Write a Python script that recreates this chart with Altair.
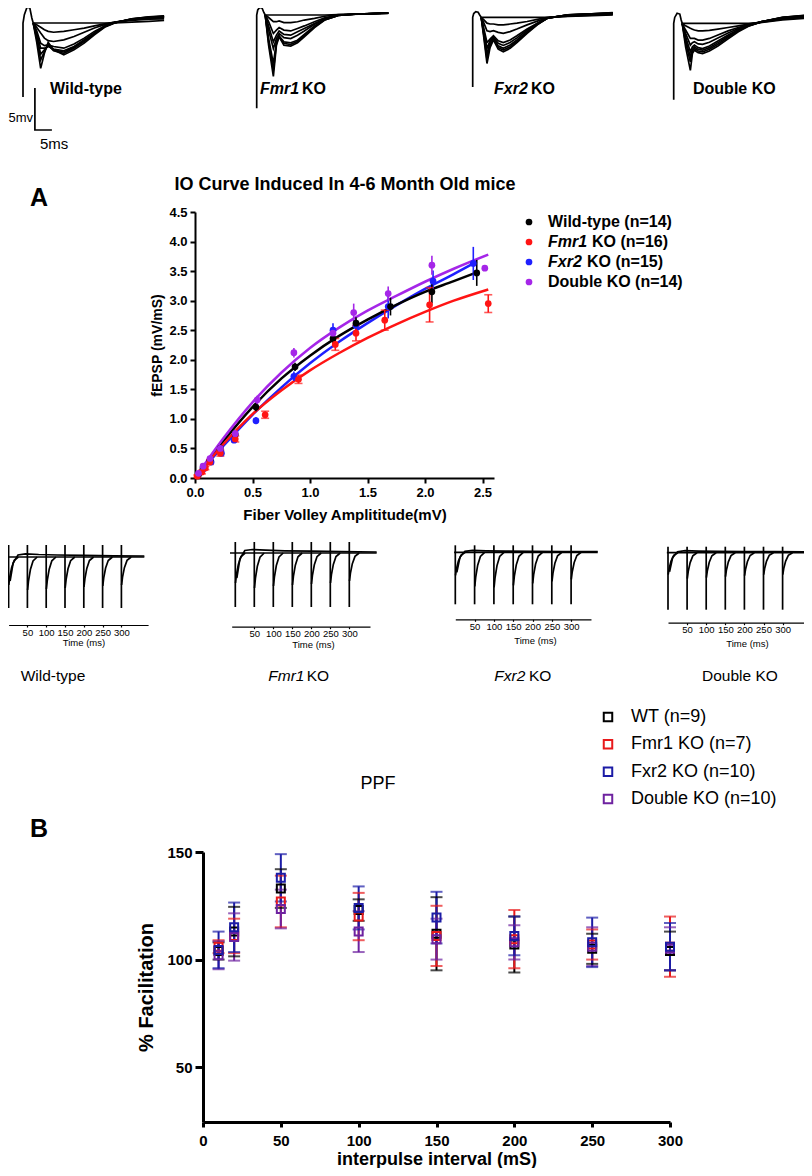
import altair as alt
import pandas as pd

FONT = "Liberation Sans"
M = 8              # page margin: page pixel -> view pixel
W, H = 796, 1160
MS_PX = 3.4        # top traces: px per ms
MV_PX = 8.4        # top traces: px per mV


def v(p):
    return p - M


ONE = pd.DataFrame({"k": [0]})

# ================= DATA =================
# ---- top row: superimposed fEPSP traces (time in ms, voltage in mV) ----
WT_T = [3, 4, 5.2, 6.3, 7.4, 9, 12, 15, 18, 21, 24, 27, 32, 37, 41.5]
WT_TRACES = [
    [0, 0, 0, 0, 0, 0, 0, 0, 0, 0, 0, 0, 0.1, 0.2, 0.3],
    [0, -0.2, -0.5, -0.8, -1.0, -1.1, -1.0, -0.8, -0.6, -0.35, -0.1, 0.1, 0.3, 0.45, 0.5],
    [0, -0.5, -1.2, -1.8, -2.1, -2.2, -2.0, -1.6, -1.1, -0.6, -0.2, 0.1, 0.4, 0.55, 0.65],
    [0, -0.9, -2.4, -2.7, -2.6, -2.8, -3.0, -2.5, -1.8, -1.0, -0.35, 0.05, 0.42, 0.6, 0.7],
    [0, -1.2, -3.0, -3.0, -2.8, -3.1, -3.3, -2.8, -2.0, -1.2, -0.4, 0.05, 0.45, 0.65, 0.75],
    [0, -1.5, -3.7, -3.2, -2.7, -3.2, -3.45, -2.9, -2.1, -1.25, -0.42, 0.05, 0.48, 0.68, 0.78],
    [0, -1.8, -4.4, -3.4, -2.6, -3.3, -3.6, -3.0, -2.2, -1.3, -0.45, 0.05, 0.5, 0.7, 0.8],
    [0, -2.2, -5.4, -3.6, -2.3, -3.2, -3.8, -3.2, -2.4, -1.4, -0.5, 0.0, 0.5, 0.72, 0.85],
]
WT_ART_T = [0, 0, 0, 0.4, 1.2, 2.0, 2.6, 3.0]
WT_ART_V = [0, -8.8, 0, 1.0, 1.9, 1.8, 0.6, 0]

FMR1_T = [2.5, 3.5, 4.9, 5.8, 6.6, 8, 10, 12, 14, 17, 20, 24, 30, 35, 38.7]
FMR1_TRACES = [
    [0, 0, 0, 0, 0, 0, 0, 0, 0, 0, 0, 0.05, 0.1, 0.15, 0.2],
    [0, -0.3, -0.8, -0.8, -0.7, -0.9, -0.9, -0.8, -0.6, -0.4, -0.15, 0.05, 0.12, 0.17, 0.22],
    [0, -0.8, -2.2, -1.8, -1.5, -1.8, -1.9, -1.6, -1.3, -0.8, -0.35, 0, 0.12, 0.18, 0.22],
    [0, -1.3, -3.2, -2.4, -1.9, -2.3, -2.4, -2.0, -1.6, -1.0, -0.45, 0, 0.12, 0.18, 0.23],
    [0, -1.8, -4.0, -2.8, -2.2, -2.7, -2.8, -2.4, -1.9, -1.1, -0.5, 0, 0.12, 0.18, 0.24],
    [0, -2.8, -5.8, -3.2, -2.5, -3.2, -3.3, -3.0, -2.3, -1.3, -0.55, -0.05, 0.12, 0.2, 0.25],
    [0, -3.2, -6.6, -3.4, -2.55, -3.4, -3.5, -3.15, -2.45, -1.4, -0.58, -0.05, 0.12, 0.2, 0.25],
    [0, -3.6, -7.3, -3.6, -2.6, -3.6, -3.7, -3.3, -2.6, -1.5, -0.6, -0.05, 0.12, 0.2, 0.25],
]
FMR1_ART_T = [0, 0, 0, 0.3, 0.9, 1.6, 2.1, 2.5]
FMR1_ART_V = [0, -11.1, 0, 0.6, 0.9, 0.8, 0.3, 0]

FXR2_T = [2.5, 3.3, 4.2, 5.1, 6.1, 7.5, 9, 11, 13, 16, 19, 22, 28, 35, 41.2]
FXR2_TRACES = [
    [0, 0, 0, 0, 0, 0, 0, 0, 0, 0, 0, 0, 0.1, 0.2, 0.3],
    [0, -0.3, -0.7, -0.8, -0.8, -0.9, -0.9, -0.8, -0.7, -0.5, -0.25, 0, 0.15, 0.25, 0.35],
    [0, -0.7, -1.6, -1.7, -1.6, -1.8, -1.9, -1.7, -1.4, -0.9, -0.45, -0.05, 0.2, 0.3, 0.4],
    [0, -1.4, -3.0, -2.6, -2.2, -2.8, -3.0, -2.7, -2.2, -1.4, -0.7, -0.1, 0.25, 0.35, 0.45],
    [0, -1.7, -3.7, -2.8, -2.35, -3.1, -3.35, -3.0, -2.45, -1.55, -0.75, -0.1, 0.26, 0.38, 0.48],
    [0, -2.0, -4.4, -3.0, -2.5, -3.4, -3.7, -3.3, -2.7, -1.7, -0.8, -0.1, 0.28, 0.4, 0.5],
    [0, -2.2, -5.0, -3.3, -2.6, -3.6, -3.9, -3.5, -2.85, -1.8, -0.85, -0.1, 0.29, 0.41, 0.52],
    [0, -2.5, -5.5, -3.6, -2.7, -3.8, -4.1, -3.7, -3.0, -1.9, -0.9, -0.1, 0.3, 0.42, 0.55],
]
FXR2_ART_T = [0, 0, 0, 0.3, 0.9, 1.6, 2.1, 2.5]
FXR2_ART_V = [0, -8.3, 0, 0.45, 0.67, 0.6, 0.25, 0]

DKO_T = [2.5, 3.5, 4.9, 5.5, 6.1, 7.2, 8.5, 10.5, 13, 16, 19, 22, 26, 32, 39.4]
DKO_TRACES = [
    [0, 0, 0, 0, 0, 0, 0, 0, 0, 0, 0, 0, 0.1, 0.4, 0.6],
    [0, -0.3, -0.6, -0.7, -0.8, -0.9, -0.9, -0.85, -0.7, -0.5, -0.3, -0.1, 0.15, 0.5, 0.7],
    [0, -0.8, -1.8, -1.8, -1.8, -2.0, -2.0, -1.8, -1.4, -0.9, -0.5, -0.15, 0.2, 0.6, 0.8],
    [0, -1.2, -2.6, -2.3, -2.2, -2.45, -2.5, -2.25, -1.75, -1.15, -0.62, -0.2, 0.2, 0.62, 0.85],
    [0, -1.6, -3.4, -2.8, -2.6, -2.9, -3.0, -2.7, -2.1, -1.4, -0.75, -0.25, 0.2, 0.65, 0.9],
    [0, -2.0, -4.0, -3.1, -2.8, -3.1, -3.2, -2.9, -2.3, -1.55, -0.82, -0.28, 0.2, 0.68, 0.92],
    [0, -2.3, -4.6, -3.3, -3.0, -3.3, -3.4, -3.1, -2.5, -1.7, -0.9, -0.3, 0.2, 0.7, 0.95],
    [0, -2.8, -5.6, -3.6, -3.2, -3.5, -3.6, -3.3, -2.7, -1.85, -1.0, -0.35, 0.2, 0.72, 1.0],
]
DKO_ART_T = [0, 0, 0, 0.3, 1.0, 1.8, 2.2, 2.5]
DKO_ART_V = [0, -9.1, 0, 0.7, 1.2, 1.1, 0.4, 0]

SCALEBAR_T = [3.5, 3.5, 8.5]          # 5 ms
SCALEBAR_V = [-7.74, -12.74, -12.74]  # 5 mV

# ---- panel A: IO curve ----
IO_GROUPS = ["Wild-type", "Fmr1 KO", "Fxr2 KO", "Double KO"]
IO_COLORS = ["#000000", "#ff1414", "#1f1fff", "#a526e8"]
IO_LEG_MAIN = ["Wild-type (n=14)", "", "", "Double KO (n=14)"]
IO_LEG_ITAL = ["", "Fmr1", "Fxr2", ""]
IO_LEG_REST = ["", "KO (n=16)", "KO (n=15)", ""]

WT_FV = [0.03, 0.07, 0.13, 0.22, 0.35, 0.53, 0.87, 1.20, 1.40, 1.70, 2.06, 2.45]
WT_FE = [0.06, 0.17, 0.30, 0.50, 0.74, 1.20, 1.88, 2.36, 2.62, 2.90, 3.15, 3.47]
WT_SE = [0.02, 0.03, 0.04, 0.05, 0.06, 0.07, 0.07, 0.09, 0.10, 0.15, 0.20, 0.22]

FMR1_FV = [0.02, 0.06, 0.09, 0.13, 0.22, 0.35, 0.61, 0.90, 1.22, 1.40, 1.65, 2.04, 2.55]
FMR1_FE = [0.03, 0.10, 0.17, 0.27, 0.42, 0.66, 1.07, 1.67, 2.26, 2.45, 2.67, 2.93, 2.95]
FMR1_SE = [0.02, 0.03, 0.03, 0.04, 0.05, 0.05, 0.06, 0.07, 0.10, 0.13, 0.17, 0.29, 0.15]

FXR2_FV = [0.03, 0.07, 0.14, 0.23, 0.34, 0.53, 0.86, 1.20, 1.40, 1.68, 2.07, 2.42]
FXR2_FE = [0.06, 0.15, 0.27, 0.42, 0.64, 0.97, 1.72, 2.50, 2.58, 2.90, 3.33, 3.63]
FXR2_SE = [0.02, 0.03, 0.04, 0.05, 0.05, 0.06, 0.08, 0.12, 0.10, 0.20, 0.18, 0.28]

DKO_FV = [0.03, 0.07, 0.13, 0.22, 0.35, 0.54, 0.86, 1.20, 1.38, 1.68, 2.06, 2.52]
DKO_FE = [0.08, 0.20, 0.33, 0.50, 0.75, 1.32, 2.12, 2.45, 2.80, 3.12, 3.60, 3.55]
DKO_SE = [0.02, 0.03, 0.04, 0.05, 0.06, 0.07, 0.08, 0.10, 0.15, 0.12, 0.16, 0.04]

WT_CX = [0, 0.25, 0.5, 0.75, 1.0, 1.25, 1.5, 1.75, 2.0, 2.25, 2.45]
WT_CY = [0, 0.63, 1.20, 1.68, 2.07, 2.40, 2.68, 2.93, 3.15, 3.33, 3.48]
FMR1_CX = [0, 0.25, 0.5, 0.75, 1.0, 1.25, 1.5, 1.75, 2.0, 2.25, 2.55]
FMR1_CY = [0, 0.58, 1.08, 1.48, 1.82, 2.11, 2.37, 2.60, 2.81, 3.00, 3.19]
FXR2_CX = [0, 0.25, 0.5, 0.75, 1.0, 1.25, 1.5, 1.75, 2.0, 2.25, 2.45]
FXR2_CY = [0, 0.55, 1.07, 1.53, 1.94, 2.30, 2.62, 2.92, 3.20, 3.45, 3.66]
DKO_CX = [0, 0.25, 0.5, 0.75, 1.0, 1.25, 1.5, 1.75, 2.0, 2.25, 2.55]
DKO_CY = [0, 0.68, 1.28, 1.78, 2.20, 2.54, 2.83, 3.08, 3.32, 3.54, 3.78]

IO_X_TICKS = [0, 0.5, 1.0, 1.5, 2.0, 2.5]
IO_Y_TICKS = [0, 0.5, 1.0, 1.5, 2.0, 2.5, 3.0, 3.5, 4.0, 4.5]

# ---- middle row: paired-pulse traces (ms, arbitrary units of ~1 mV) ----
PPF_PULSES = [0, 50, 100, 150, 200, 250, 300]
DIP_DT = [0.5, 3, 8, 15, 26]
DIP_FRAC = [1.0, 0.72, 0.38, 0.12, 0.0]
PP_TICKS = [50, 100, 150, 200, 250, 300]

WT_PP_DIPS = [-2.8, -3.3, -3.2, -3.1, -3.0, -2.9, -2.8]
WT_PP_ART = [1.2, -5.1]
WT_PP_SPAN = [-2, 361]
WT_PP_HUMP_T = [4, 12, 25, 45, 80, 130, 200, 280, 361]
WT_PP_HUMP_V = [-2.4, -0.6, 0.2, 0.32, 0.25, 0.2, 0.16, 0.12, 0.1]

FMR1_PP_DIPS = [-3.0, -3.5, -3.3, -3.2, -3.1, -3.0, -2.8]
FMR1_PP_ART = [1.1, -5.4]
FMR1_PP_SPAN = [-14, 372]
FMR1_PP_HUMP_T = [4, 12, 25, 45, 80, 130, 200, 280, 372]
FMR1_PP_HUMP_V = [-2.5, -0.6, 0.25, 0.35, 0.28, 0.22, 0.18, 0.14, 0.1]

FXR2_PP_DIPS = [-2.3, -3.4, -3.5, -3.3, -3.1, -2.9, -2.7]
FXR2_PP_ART = [0.7, -5.2]
FXR2_PP_SPAN = [-3, 369]
FXR2_PP_HUMP_T = [4, 12, 25, 45, 80, 130, 200, 280, 369]
FXR2_PP_HUMP_V = [-2.0, -0.5, 0.1, 0.2, 0.15, 0.12, 0.1, 0.08, 0.08]

DKO_PP_DIPS = [-2.2, -2.6, -2.5, -2.4, -2.3, -2.2, -2.2]
DKO_PP_ART = [0.6, -5.7]
DKO_PP_SPAN = [-3, 374]
DKO_PP_HUMP_T = [4, 12, 25, 45, 80, 130, 200, 280, 374]
DKO_PP_HUMP_V = [-1.9, -0.5, 0.1, 0.2, 0.16, 0.14, 0.12, 0.1, 0.08]

# ---- panel B: PPF ----
PPF_GROUPS = ["WT (n=9)", "Fmr1 KO (n=7)", "Fxr2 KO (n=10)", "Double KO (n=10)"]
PPF_COLORS = ["#000000", "#e8191b", "#1c1ca6", "#6e22a0"]
PPF_X = [10, 20, 50, 100, 150, 200, 250, 300]
WT_PPF = [104, 113, 133, 123, 112, 107, 105, 104]
WT_PPF_SE = [4, 11.5, 9, 5, 17, 13, 7, 9]
FMR1_PPF = [106, 111, 127, 120, 111, 109.5, 107, 106]
FMR1_PPF_SE = [3, 8, 12, 11, 14, 13.5, 7, 14]
FXR2_PPF = [104.5, 115, 138, 124, 119.5, 111, 108, 106]
FXR2_PPF_SE = [8.5, 11.5, 11, 10, 12, 9, 11.5, 11]
DKO_PPF = [102, 110.5, 123.5, 113, 109.5, 108, 106, 105]
DKO_PPF_SE = [6.5, 11, 9, 9.5, 9.5, 8, 9, 10]
PPF_X_TICKS = [0, 50, 100, 150, 200, 250, 300]
PPF_Y_TICKS = [50, 100, 150]


# ================= HELPERS =================
def label(text, x, y, size, weight="normal", style="normal", align="left",
          baseline="alphabetic"):
    return alt.Chart(ONE).mark_text(
        text=text, font=FONT, fontSize=size, fontWeight=weight, fontStyle=style,
        align=align, baseline=baseline, color="black"
    ).encode(x=alt.value(v(x)), y=alt.value(v(y)))


def top_panel(T, traces, art_t, art_v, x0, y0, bar=False):
    rows = []
    for k, tr in enumerate(traces):
        for i, (t, val) in enumerate(zip(T, tr)):
            rows.append({"s": "tr%d" % k, "i": i, "t": t, "v": val})
    for i, (t, val) in enumerate(zip(art_t, art_v)):
        rows.append({"s": "art", "i": i, "t": t, "v": val})
    if bar:
        for i, (t, val) in enumerate(zip(SCALEBAR_T, SCALEBAR_V)):
            rows.append({"s": "bar", "i": i, "t": t, "v": val})
    df = pd.DataFrame(rows)
    xs = alt.Scale(domain=[0, 45], range=[v(x0), v(x0 + 45 * MS_PX)], nice=False, zero=False)
    ys = alt.Scale(domain=[-14, 3], range=[v(y0 + 14 * MV_PX), v(y0 - 3 * MV_PX)],
                   nice=False, zero=False)
    return alt.Chart(df).mark_line(color="black", strokeWidth=1.7).encode(
        x=alt.X("t:Q", scale=xs, axis=None),
        y=alt.Y("v:Q", scale=ys, axis=None),
        detail="s:N",
        order=alt.Order("i:Q"),
    )


def pp_panel(t0, pxms, base_y, tdom, span, art, dips, hump_t, hump_v, axis_y, title_x, title_y):
    rows = [{"s": "base", "i": 0, "t": span[0], "v": 0},
            {"s": "base", "i": 1, "t": span[1], "v": 0}]
    for p, d in zip(PPF_PULSES, dips):
        for i, (dt, f) in enumerate(zip(DIP_DT, DIP_FRAC)):
            rows.append({"s": "p%d" % p, "i": i, "t": p + dt, "v": d * f})
    for i, (t, val) in enumerate(zip(hump_t, hump_v)):
        rows.append({"s": "hump", "i": i, "t": t, "v": val})
    df = pd.DataFrame(rows)
    adf = pd.DataFrame({"t": PPF_PULSES, "top": [art[0]] * 7, "bot": [art[1]] * 7})
    xs = alt.Scale(domain=tdom, range=[v(t0 + tdom[0] * pxms), v(t0 + tdom[1] * pxms)],
                   nice=False, zero=False)
    ys = alt.Scale(domain=[-6, 1.5], range=[v(base_y + 60), v(base_y - 15)], nice=False, zero=False)
    xax = alt.Axis(orient="bottom", offset=v(axis_y) - H, values=PP_TICKS, tickSize=2,
                   tickWidth=1.2, domainWidth=1.2, labelPadding=0, labelFontSize=9.5,
                   labelFontWeight="normal", labelFlush=False, labelOverlap=False, grid=False,
                   title="Time (ms)", titleFontSize=9.5, titleFontWeight="normal",
                   titleX=v(title_x), titleY=title_y, titleBaseline="alphabetic",
                   titleAlign="center")
    X = alt.X("t:Q", scale=xs, axis=xax)
    lines = alt.Chart(df).mark_line(color="black", strokeWidth=1.7).encode(
        x=X, y=alt.Y("v:Q", scale=ys, axis=None), detail="s:N", order=alt.Order("i:Q"))
    arts = alt.Chart(adf).mark_rule(color="black", strokeWidth=1.7).encode(
        x=X, y=alt.Y("top:Q", scale=ys, axis=None), y2="bot:Q")
    return alt.layer(lines, arts)


# ================= TOP ROW =================
top_wt = top_panel(WT_T, WT_TRACES, WT_ART_T, WT_ART_V, 23, 23, bar=True)
top_fmr1 = top_panel(FMR1_T, FMR1_TRACES, FMR1_ART_T, FMR1_ART_V, 256.7, 15)
top_fxr2 = top_panel(FXR2_T, FXR2_TRACES, FXR2_ART_T, FXR2_ART_V, 472.7, 17.3)
top_dko = top_panel(DKO_T, DKO_TRACES, DKO_ART_T, DKO_ART_V, 673.7, 23.3)

top_labels = [
    label("Wild-type", 50, 94, 16, weight="bold"),
    label("Fmr1", 260, 94, 16, weight="bold", style="italic"),
    label("KO", 302, 94, 16, weight="bold"),
    label("Fxr2", 494, 94, 16, weight="bold", style="italic"),
    label("KO", 531, 94, 16, weight="bold"),
    label("Double KO", 693, 94, 16, weight="bold"),
    label("5mv", 33, 121.5, 13, align="right"),
    label("5ms", 40, 149, 15),
]

# ================= PANEL A =================
io_rows, io_curve_rows = [], []
IO_DRAW = [
    ("Fxr2 KO", FXR2_FV, FXR2_FE, FXR2_SE, FXR2_CX, FXR2_CY),
    ("Wild-type", WT_FV, WT_FE, WT_SE, WT_CX, WT_CY),
    ("Fmr1 KO", FMR1_FV, FMR1_FE, FMR1_SE, FMR1_CX, FMR1_CY),
    ("Double KO", DKO_FV, DKO_FE, DKO_SE, DKO_CX, DKO_CY),
]
for g, fv, fe, se, cx, cy in IO_DRAW:
    for a, b, c in zip(fv, fe, se):
        io_rows.append({"g": g, "fv": a, "fe": b, "lo": b - c, "hi": b + c})
    for a, b in zip(cx, cy):
        io_curve_rows.append({"g": g, "fv": a, "fe": b})
io_df = pd.DataFrame(io_rows)
io_curve_df = pd.DataFrame(io_curve_rows)

io_xs = alt.Scale(domain=[0, 2.6], range=[v(195), v(494)], nice=False, zero=False)
io_ys = alt.Scale(domain=[0, 4.5], range=[v(478), v(212)], nice=False, zero=False)
io_col = alt.Color("g:N", scale=alt.Scale(domain=IO_GROUPS, range=IO_COLORS), legend=None)
io_xax = alt.Axis(orient="bottom", offset=v(478) - H, values=IO_X_TICKS, format=".1f",
                  tickSize=5, tickWidth=2, domainWidth=2, labelFontSize=13,
                  labelFontWeight="bold", labelPadding=3, labelFlush=False,
                  labelOverlap=False, grid=False, title="Fiber Volley Amplititude(mV)",
                  titleFontSize=15, titleFontWeight="bold", titleX=v(344.5), titleY=41,
                  titleBaseline="alphabetic", titleAlign="center")
io_yax = alt.Axis(orient="left", offset=-v(195), values=IO_Y_TICKS, format=".1f",
                  tickSize=5, tickWidth=2, domainWidth=2, labelFontSize=13,
                  labelFontWeight="bold", labelPadding=3, labelFlush=False,
                  labelOverlap=False, grid=False, title="fEPSP (mV/mS)",
                  titleFontSize=14, titleFontWeight="bold", titleX=-34, titleY=v(345),
                  titleAngle=270, titleBaseline="alphabetic", titleAlign="center")
IOX = alt.X("fv:Q", scale=io_xs, axis=io_xax)

io_curves = alt.Chart(io_curve_df).mark_line(strokeWidth=2.5, interpolate="monotone").encode(
    x=IOX, y=alt.Y("fe:Q", scale=io_ys, axis=io_yax), color=io_col, detail="g:N")
io_err = alt.Chart(io_df).mark_rule(strokeWidth=1.6).encode(
    x=IOX, y=alt.Y("lo:Q", scale=io_ys, axis=io_yax), y2="hi:Q", color=io_col)
io_cap_lo = alt.Chart(io_df).transform_filter(alt.datum.g == "Fmr1 KO").mark_tick(
    orient="horizontal", size=8, thickness=1.6).encode(
    x=IOX, y=alt.Y("lo:Q", scale=io_ys, axis=io_yax), color=io_col)
io_cap_hi = alt.Chart(io_df).transform_filter(alt.datum.g == "Fmr1 KO").mark_tick(
    orient="horizontal", size=8, thickness=1.6).encode(
    x=IOX, y=alt.Y("hi:Q", scale=io_ys, axis=io_yax), color=io_col)
io_pts = alt.Chart(io_df).mark_circle(size=45, opacity=1).encode(
    x=IOX, y=alt.Y("fe:Q", scale=io_ys, axis=io_yax), color=io_col)
io_panel = alt.layer(io_curves, io_err, io_cap_lo, io_cap_hi, io_pts)

io_leg_df = pd.DataFrame({"g": IO_GROUPS, "main": IO_LEG_MAIN, "ital": IO_LEG_ITAL,
                          "rest": IO_LEG_REST})
io_leg_y = alt.Y("g:N", scale=alt.Scale(type="point", domain=IO_GROUPS,
                                         range=[v(222), v(282)], padding=0), axis=None)
io_leg = alt.layer(
    alt.Chart(io_leg_df).mark_circle(size=45, opacity=1).encode(
        x=alt.value(v(529)), y=io_leg_y, color=io_col),
    alt.Chart(io_leg_df).transform_filter(alt.datum.main != "").mark_text(
        font=FONT, fontSize=16, fontWeight="bold", align="left", baseline="middle",
        color="black").encode(x=alt.value(v(548)), y=io_leg_y, text="main:N"),
    alt.Chart(io_leg_df).transform_filter(alt.datum.ital != "").mark_text(
        font=FONT, fontSize=16, fontWeight="bold", fontStyle="italic", align="left",
        baseline="middle", color="black").encode(x=alt.value(v(548)), y=io_leg_y, text="ital:N"),
    alt.Chart(io_leg_df).transform_filter(alt.datum.g == "Fmr1 KO").mark_text(
        font=FONT, fontSize=16, fontWeight="bold", align="left", baseline="middle",
        color="black").encode(x=alt.value(v(592)), y=io_leg_y, text="rest:N"),
    alt.Chart(io_leg_df).transform_filter(alt.datum.g == "Fxr2 KO").mark_text(
        font=FONT, fontSize=16, fontWeight="bold", align="left", baseline="middle",
        color="black").encode(x=alt.value(v(587)), y=io_leg_y, text="rest:N"),
)

a_labels = [
    label("IO Curve Induced In 4-6 Month Old mice", 345, 190, 18, weight="bold", align="center"),
    label("A", 30, 206, 25, weight="bold"),
]

# ================= MIDDLE ROW =================
pp_wt = pp_panel(8.6, 0.376, 557, [0, 371], WT_PP_SPAN, WT_PP_ART, WT_PP_DIPS,
                 WT_PP_HUMP_T, WT_PP_HUMP_V, 625, 83.5, 20.5)
pp_fmr1 = pp_panel(235.3, 0.38, 553, [-9.5, 354.5], FMR1_PP_SPAN, FMR1_PP_ART, FMR1_PP_DIPS,
                   FMR1_PP_HUMP_T, FMR1_PP_HUMP_V, 626.7, 313, 20.5)
pp_fxr2 = pp_panel(455.3, 0.386, 552.3, [0, 351.5], FXR2_PP_SPAN, FXR2_PP_ART, FXR2_PP_DIPS,
                   FXR2_PP_HUMP_T, FXR2_PP_HUMP_V, 619.3, 535, 24)
pp_dko = pp_panel(668, 0.382, 552.7, [0, 356], DKO_PP_SPAN, DKO_PP_ART, DKO_PP_DIPS,
                  DKO_PP_HUMP_T, DKO_PP_HUMP_V, 622.7, 747, 24)

mid_labels = [
    label("Wild-type", 20.7, 681, 15.5),
    label("Fmr1", 268.3, 681, 15.5, style="italic"),
    label("KO", 306.7, 681, 15.5),
    label("Fxr2", 494.3, 681, 15.5, style="italic"),
    label("KO", 529, 681, 15.5),
    label("Double KO", 702, 681, 15.5),
]

# ================= PANEL B =================
ppf_rows = []
PPF_DRAW = [
    ("WT (n=9)", WT_PPF, WT_PPF_SE),
    ("Fmr1 KO (n=7)", FMR1_PPF, FMR1_PPF_SE),
    ("Double KO (n=10)", DKO_PPF, DKO_PPF_SE),
    ("Fxr2 KO (n=10)", FXR2_PPF, FXR2_PPF_SE),
]
for g, mean, se in PPF_DRAW:
    for x, m, s in zip(PPF_X, mean, se):
        ppf_rows.append({"g": g, "x": x, "m": m, "lo": m - s, "hi": m + s})
ppf_df = pd.DataFrame(ppf_rows)

ppf_xs = alt.Scale(domain=[0, 300], range=[v(203), v(670)], nice=False, zero=False)
ppf_ys = alt.Scale(domain=[24.5, 150], range=[v(1122), v(852)], nice=False, zero=False)
ppf_col = alt.Color("g:N", scale=alt.Scale(domain=PPF_GROUPS, range=PPF_COLORS), legend=None)
ppf_xax = alt.Axis(orient="bottom", offset=v(1122) - H, values=PPF_X_TICKS, tickSize=5,
                   tickWidth=3, domainWidth=3, labelFontSize=15, labelFontWeight="bold",
                   labelPadding=6, labelFlush=False, labelOverlap=False, grid=False,
                   title="interpulse interval (mS)", titleFontSize=18, titleFontWeight="bold",
                   titleX=v(436.5), titleY=42, titleBaseline="alphabetic", titleAlign="center")
ppf_yax = alt.Axis(orient="left", offset=-v(203), values=PPF_Y_TICKS, tickSize=8,
                   tickWidth=3, domainWidth=3, labelFontSize=15, labelFontWeight="bold",
                   labelPadding=3, labelFlush=False, labelOverlap=False, grid=False,
                   title="% Facilitation", titleFontSize=20, titleFontWeight="bold",
                   titleX=-51, titleY=v(987), titleAngle=270, titleBaseline="alphabetic",
                   titleAlign="center")
PX = alt.X("x:Q", scale=ppf_xs, axis=ppf_xax)

ppf_err = alt.Chart(ppf_df).mark_rule(strokeWidth=2).encode(
    x=PX, y=alt.Y("lo:Q", scale=ppf_ys, axis=ppf_yax), y2="hi:Q", color=ppf_col)
ppf_cap_lo = alt.Chart(ppf_df).mark_tick(orient="horizontal", size=12, thickness=2).encode(
    x=PX, y=alt.Y("lo:Q", scale=ppf_ys, axis=ppf_yax), color=ppf_col)
ppf_cap_hi = alt.Chart(ppf_df).mark_tick(orient="horizontal", size=12, thickness=2).encode(
    x=PX, y=alt.Y("hi:Q", scale=ppf_ys, axis=ppf_yax), color=ppf_col)
ppf_pts = alt.Chart(ppf_df).mark_point(shape="square", filled=False, size=64,
                                       strokeWidth=2, opacity=1).encode(
    x=PX, y=alt.Y("m:Q", scale=ppf_ys, axis=ppf_yax), color=ppf_col)
ppf_panel = alt.layer(ppf_err, ppf_cap_lo, ppf_cap_hi, ppf_pts)

ppf_leg_df = pd.DataFrame({"g": PPF_GROUPS})
ppf_leg_y = alt.Y("g:N", scale=alt.Scale(type="point", domain=PPF_GROUPS,
                                          range=[v(717), v(799)], padding=0), axis=None)
ppf_leg = alt.layer(
    alt.Chart(ppf_leg_df).mark_point(shape="square", filled=False, size=72, strokeWidth=2,
                                     opacity=1).encode(
        x=alt.value(v(608)), y=ppf_leg_y, color=ppf_col),
    alt.Chart(ppf_leg_df).mark_text(font=FONT, fontSize=18, align="left", baseline="middle",
                                    color="black").encode(
        x=alt.value(v(631)), y=ppf_leg_y, text="g:N"),
)

b_labels = [
    label("PPF", 378, 789, 18, align="center"),
    label("B", 30, 837, 25, weight="bold"),
]

chart = alt.layer(
    top_wt, top_fmr1, top_fxr2, top_dko, *top_labels,
    io_panel, io_leg, *a_labels,
    pp_wt, pp_fmr1, pp_fxr2, pp_dko, *mid_labels,
    ppf_panel, ppf_leg, *b_labels,
).resolve_scale(
    x="independent", y="independent", color="independent"
).properties(
    width=W, height=H, padding=0, background="white",
    autosize=alt.AutoSizeParams(type="none"),
).configure_view(stroke=None).configure_axis(
    labelFont=FONT, titleFont=FONT, labelColor="black", titleColor="black",
    domainColor="black", tickColor="black", grid=False,
).configure_text(font=FONT)

chart.save("out.html", embed_options={"renderer": "svg", "actions": False})
